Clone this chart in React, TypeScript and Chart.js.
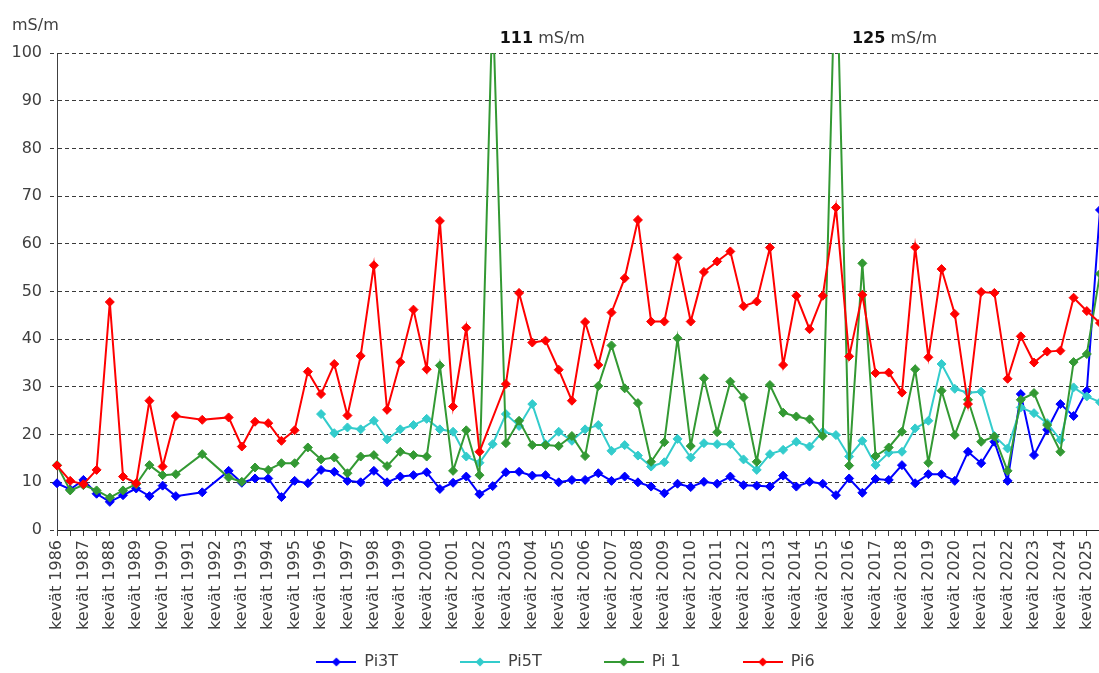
import React, { useEffect, useRef } from 'react';
import { Chart, registerables } from 'chart.js';

Chart.register(...registerables);

const FONT = '"DejaVu Sans", sans-serif';
const UNIT = 'mS/m';

const YEARS = [
  1986, 1987, 1988, 1989, 1990, 1991, 1992, 1993, 1994, 1995,
  1996, 1997, 1998, 1999, 2000, 2001, 2002, 2003, 2004, 2005,
  2006, 2007, 2008, 2009, 2010, 2011, 2012, 2013, 2014, 2015,
  2016, 2017, 2018, 2019, 2020, 2021, 2022, 2023, 2024, 2025,
];
// spring (kevät) and autumn (syksy) sampling for every year
const CATEGORIES = YEARS.flatMap((y) => ['kevät ' + y, 'syksy ' + y]);

const PI3T = [
  9.8, 8.5, 10.5, 7.6, 5.9, 7.3, 8.7, 7.1, 9.3, 7.1,
  null, 7.9, null, 12.4, 9.9, 10.8, 10.8, 6.9, 10.3, 9.8,
  12.6, 12.2, 10.3, 10.0, 12.4, 10.0, 11.2, 11.5, 12.1, 8.6,
  9.9, 11.2, 7.5, 9.2, 12.1, 12.2, 11.4, 11.5, 10.0, 10.5,
  10.5, 11.9, 10.3, 11.2, 10.0, 9.1, 7.7, 9.7, 9.0, 10.1,
  9.7, 11.2, 9.4, 9.3, 9.1, 11.4, 9.1, 10.1, 9.7, 7.3,
  10.8, 7.8, 10.7, 10.5, 13.6, 9.8, 11.7, 11.7, 10.3, 16.4,
  14.0, 18.5, 10.3, 28.5, 15.7, 21.0, 26.4, 23.9, 29.2, 67.1,
];

const PI5T = [
  null, null, null, null, null, null, null, null, null, null,
  null, null, null, null, null, null, null, null, null, null,
  24.3, 20.3, 21.5, 21.1, 22.9, 19.0, 21.1, 22.0, 23.3, 21.1,
  20.6, 15.4, 14.1, 18.0, 24.3, 21.8, 26.4, 18.0, 20.6, 18.7,
  21.1, 22.0, 16.6, 17.8, 15.6, 13.3, 14.2, 19.1, 15.2, 18.2,
  18.0, 18.0, 14.8, 12.6, 15.9, 16.8, 18.5, 17.5, 20.6, 19.9,
  15.4, 18.7, 13.6, 16.2, 16.4, 21.3, 22.9, 34.8, 29.6, 28.8,
  29.0, 19.7, 17.1, 25.7, 24.5, 22.4, 18.9, 29.9, 28.0, 26.8,
];

const PI1 = [
  13.6, 8.3, 9.4, 8.3, 6.8, 8.3, 9.6, 13.6, 11.5, 11.7,
  null, 15.9, null, 11.0, 10.1, 13.1, 12.6, 14.0, 14.0, 17.3,
  14.8, 15.2, 11.9, 15.4, 15.7, 13.4, 16.4, 15.7, 15.4, 34.5,
  12.4, 20.9, 11.5, 111, 18.2, 22.9, 17.8, 17.8, 17.6, 19.7,
  15.5, 30.2, 38.7, 29.7, 26.6, 14.3, 18.4, 40.2, 17.6, 31.8,
  20.5, 31.1, 27.8, 14.3, 30.4, 24.6, 23.8, 23.2, 19.7, 125,
  13.5, 55.9, 15.5, 17.3, 20.6, 33.7, 14.1, 29.2, 19.9, 27.3,
  18.5, 19.6, 12.4, 27.3, 28.7, 22.0, 16.4, 35.2, 36.9, 53.7,
];

const PI6 = [
  13.5, 10.3, 9.6, 12.6, 47.8, 11.2, 9.8, 27.1, 13.3, 23.9,
  null, 23.1, null, 23.6, 17.5, 22.7, 22.4, 18.7, 20.9, 33.2,
  28.5, 34.8, 24.0, 36.5, 55.5, 25.2, 35.2, 46.2, 33.7, 64.8,
  25.9, 42.4, 16.4, null, 30.6, 49.7, 39.3, 39.7, 33.6, 27.1,
  43.6, 34.6, 45.6, 52.8, 65.0, 43.7, 43.7, 57.1, 43.7, 54.1,
  56.3, 58.4, 46.9, 47.9, 59.2, 34.6, 49.1, 42.1, 49.1, 67.6,
  36.4, 49.3, 32.9, 33.0, 28.8, 59.3, 36.2, 54.7, 45.3, 26.4,
  49.9, 49.7, 31.7, 40.6, 35.1, 37.4, 37.6, 48.7, 45.9, 43.4,
];

const SERIES_NAMES = ['Pi3T', 'Pi5T', 'Pi 1', 'Pi6'];
const SERIES_COLORS = ['#0000FF', '#33CCCC', '#339933', '#FF0000'];
const SERIES_VALUES = [PI3T, PI5T, PI1, PI6];

const Y_MIN = 0;
const Y_MAX = 100;
const Y_STEP = 10;

const TEXT_COLOR = '#404040';

function legendImage(color: string) {
  const c = document.createElement('canvas');
  c.width = 40;
  c.height = 12;
  const ctx = c.getContext('2d')!;
  ctx.strokeStyle = color;
  ctx.lineWidth = 2;
  ctx.beginPath();
  ctx.moveTo(0, 6);
  ctx.lineTo(40, 6);
  ctx.stroke();
  ctx.fillStyle = color;
  ctx.beginPath();
  ctx.moveTo(20, 1.5);
  ctx.lineTo(24.5, 6);
  ctx.lineTo(20, 10.5);
  ctx.lineTo(15.5, 6);
  ctx.closePath();
  ctx.fill();
  return c;
}

// let tick labels overflow their (tightly fitted) scale boxes instead of being clipped
const labelAreaPlugin = {
  id: 'labelArea',
  afterLayout(chart: any) {
    chart.scales.x.bottom = chart.height;
    chart.scales.y.left = 0;
  },
};

const annotationPlugin = {
  id: 'offscaleAnnotations',
  afterDraw(chart: any) {
    const ctx = chart.ctx;
    const xs = chart.scales.x;
    const ys = chart.scales.y;
    ctx.save();
    ctx.textAlign = 'left';
    ctx.textBaseline = 'alphabetic';
    ctx.font = `16px ${FONT}`;
    ctx.fillStyle = TEXT_COLOR;
    ctx.fillText(UNIT, 12, 30);
    const dx: Record<number, number> = { 33: 7, 59: 16 };
    SERIES_VALUES.forEach((vals) => {
      vals.forEach((v, i) => {
        if (v != null && v > Y_MAX) {
          const x = xs.getPixelForValue(i) + (dx[i] ?? 10);
          const y = ys.top - 10;
          const num = String(v);
          ctx.font = `bold 16px ${FONT}`;
          ctx.fillStyle = '#111111';
          ctx.fillText(num, x, y);
          const w = ctx.measureText(num).width;
          ctx.font = `16px ${FONT}`;
          ctx.fillStyle = TEXT_COLOR;
          ctx.fillText(' ' + UNIT, x + w, y);
        }
      });
    });
    ctx.restore();
  },
};

export default function App() {
  const ref = useRef<HTMLCanvasElement>(null);

  useEffect(() => {
    if (!ref.current) return;
    const images = SERIES_COLORS.map((c) => legendImage(c));
    const chart = new Chart(ref.current, {
      type: 'line',
      data: {
        labels: CATEGORIES,
        datasets: SERIES_VALUES.map((vals, k) => ({
          label: SERIES_NAMES[k],
          data: vals,
          borderColor: SERIES_COLORS[k],
          backgroundColor: SERIES_COLORS[k],
          pointBackgroundColor: SERIES_COLORS[k],
          pointBorderColor: SERIES_COLORS[k],
          borderWidth: 2,
          pointStyle: 'rectRot',
          pointRadius: 4.5,
          pointBorderWidth: 1,
          tension: 0,
          spanGaps: true,
          order: SERIES_NAMES.length - k,
        })),
      },
      options: {
        responsive: false,
        animation: false,
        devicePixelRatio: 1,
        layout: { padding: { left: 31, right: 40, top: 53, bottom: 0 } },
        plugins: {
          tooltip: { enabled: false },
          legend: {
            position: 'bottom',
            maxHeight: 81,
            labels: {
              usePointStyle: true,
              pointStyleWidth: 40,
              padding: 62,
              color: TEXT_COLOR,
              font: { family: FONT, size: 16 },
              sort: (a: any, b: any) => a.datasetIndex - b.datasetIndex,
              generateLabels: (ch: any) => {
                const items = Chart.defaults.plugins.legend.labels.generateLabels(ch);
                return items.map((it: any) => ({ ...it, pointStyle: images[it.datasetIndex] }));
              },
            },
          },
        },
        scales: {
          x: {
            type: 'category',
            offset: false,
            afterFit: (s: any) => {
              s.height = 62;
            },
            grid: {
              display: true,
              drawOnChartArea: false,
              drawTicks: true,
              tickLength: 6,
              color: TEXT_COLOR,
            },
            border: { display: true, color: '#222222', width: 1 },
            ticks: {
              autoSkip: false,
              maxRotation: 90,
              minRotation: 90,
              padding: 4,
              color: TEXT_COLOR,
              font: { family: FONT, size: 16 },
              callback: (_v: any, i: number) => (i % 2 === 0 ? CATEGORIES[i] : ''),
            },
          },
          y: {
            min: Y_MIN,
            max: Y_MAX,
            afterFit: (s: any) => {
              s.width = 26;
            },
            grid: {
              display: true,
              drawOnChartArea: true,
              drawTicks: true,
              tickLength: 7,
              color: '#3a3a3a',
              tickColor: '#3a3a3a',
              tickBorderDash: [4, 3],
            },
            border: { display: true, color: TEXT_COLOR, width: 1, dash: [4, 3] },
            ticks: {
              stepSize: Y_STEP,
              padding: 8,
              color: TEXT_COLOR,
              font: { family: FONT, size: 16 },
            },
          },
        },
      },
      plugins: [labelAreaPlugin, annotationPlugin],
    });
    return () => chart.destroy();
  }, []);

  return (
    <div
      style={{
        position: 'fixed',
        left: 0,
        top: 0,
        width: 1099,
        height: 673,
        overflow: 'hidden',
        background: '#ffffff',
      }}
    >
      <canvas ref={ref} width={1140} height={673} style={{ display: 'block' }} />
    </div>
  );
}
